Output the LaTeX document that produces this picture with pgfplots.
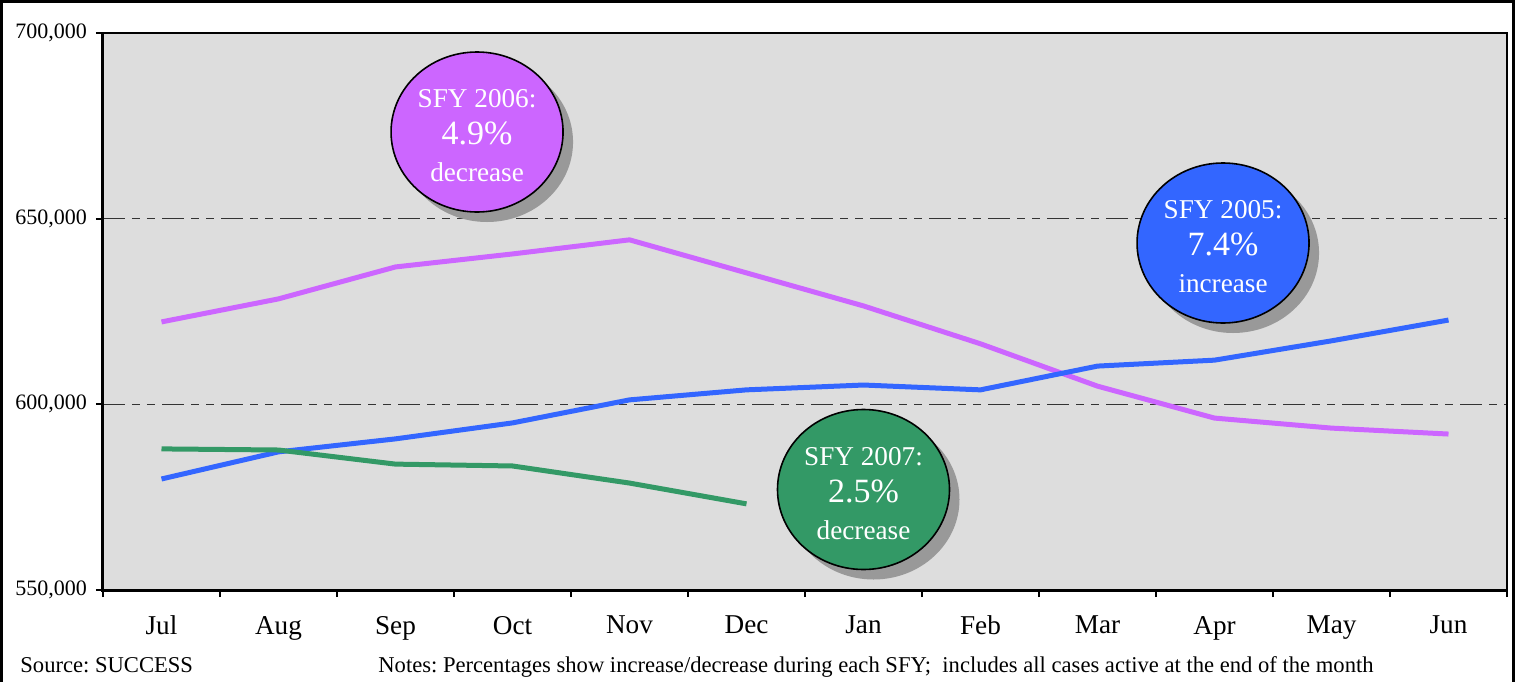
\documentclass[border=0pt]{standalone}
\usepackage{pgfplots}
\pgfplotsset{compat=1.18}
\usepackage{fontspec}
\setmainfont{Liberation Serif}
\frenchspacing
\definecolor{cpurple}{HTML}{CC66FF}
\definecolor{cblue}{HTML}{3366FF}
\definecolor{cgreen}{HTML}{339966}
\definecolor{cbg}{HTML}{DDDDDD}
\definecolor{cshadow}{HTML}{999999}
\begin{document}
\begin{tikzpicture}
\useasboundingbox (-51.5pt,-45.5pt) rectangle (708pt,295pt);
\draw[line width=1.5pt] (-50.5pt,-46pt) -- (-50.5pt,294pt) -- (705pt,294pt) -- (705pt,-46pt);
\begin{axis}[
  at={(0,0)}, anchor=south west,
  scale only axis, width=702pt, height=278.5pt,
  xmin=-0.5, xmax=11.5, ymin=550000, ymax=700000,
  axis background/.style={fill=cbg},
  axis line style={line width=0.8pt},
  xtick={0,...,11},
  xticklabels={Jul,Aug,Sep,Oct,Nov,Dec,Jan,Feb,Mar,Apr,May,Jun},
  minor xtick={-0.5,0.5,...,11.5},
  xtick pos=bottom, ytick pos=left,
  tick align=outside,
  major x tick style={draw=none},
  minor tick length=3.5pt, major tick length=3.5pt,
  tick style={line width=1pt, black},
  ytick={550000,600000,650000,700000},
  scaled y ticks=false,
  yticklabel style={/pgf/number format/fixed, /pgf/number format/1000 sep={,}, /pgf/number format/assume math mode=true, font=\fontsize{11}{13}\selectfont, xshift=-1pt},
  xticklabel style={font=\fontsize{13.6}{15}\selectfont, yshift=-6pt},
  ymajorgrids,
  major grid style={black!80, line width=0.5pt, dash pattern=on 11pt off 3.5pt on 4pt off 3.5pt on 4pt off 3.5pt},
  clip=false,
]
\addplot[cpurple, line width=2.5pt] coordinates {
(0,622200) (1,628400) (2,637000) (3,640500) (4,644300) (5,635400)
(6,626500) (7,616300) (8,604900) (9,596300) (10,593600) (11,592000)};
\addplot[cblue, line width=2.5pt] coordinates {
(0,579900) (1,587200) (2,590700) (3,595000) (4,601200) (5,603900)
(6,605200) (7,603900) (8,610300) (9,611900) (10,617100) (11,622700)};
\addplot[cgreen, line width=2.5pt] coordinates {
(0,588000) (1,587700) (2,583900) (3,583400) (4,578800) (5,573200)};
\draw[line width=1.5pt] (rel axis cs:0,1) -- (rel axis cs:0,0) -- (rel axis cs:1,0);
% bubbles
\fill[cshadow] ([shift={(5pt,-5pt)}]axis cs:2.697,673339) ellipse [x radius=43pt, y radius=40pt];
\draw[fill=cpurple, line width=0.8pt] (axis cs:2.697,673339) ellipse [x radius=43pt, y radius=40pt];
\node[white, align=center, font=\fontsize{13.6}{18.5}\selectfont] at ([yshift=-2pt]axis cs:2.697,673339) {SFY 2006:\\{\fontsize{17}{18.5}\selectfont 4.9\%}\\decrease};
\fill[cshadow] ([shift={(5pt,-5pt)}]axis cs:9.073,643447) ellipse [x radius=43pt, y radius=40pt];
\draw[fill=cblue, line width=0.8pt] (axis cs:9.073,643447) ellipse [x radius=43pt, y radius=40pt];
\node[white, align=center, font=\fontsize{13.6}{18.5}\selectfont] at ([yshift=-2pt]axis cs:9.073,643447) {SFY 2005:\\{\fontsize{17}{18.5}\selectfont 7.4\%}\\increase};
\fill[cshadow] ([shift={(5pt,-5pt)}]axis cs:6.0,577065) ellipse [x radius=43pt, y radius=40pt];
\draw[fill=cgreen, line width=0.8pt] (axis cs:6.0,577065) ellipse [x radius=43pt, y radius=40pt];
\node[white, align=center, font=\fontsize{13.6}{18.5}\selectfont] at ([yshift=-2pt]axis cs:6.0,577065) {SFY 2007:\\{\fontsize{17}{18.5}\selectfont 2.5\%}\\decrease};
\end{axis}
\node[anchor=base west, inner sep=0pt, font=\fontsize{11.3}{13}\selectfont] at (-41.5pt,-41pt) {Source: SUCCESS};
\node[anchor=base west, inner sep=0pt, font=\fontsize{11.3}{13}\selectfont] at (137.5pt,-41pt) {Notes: Percentages show increase/decrease during each SFY;\ \ includes all cases active at the end of the month};
\end{tikzpicture}
\end{document}
